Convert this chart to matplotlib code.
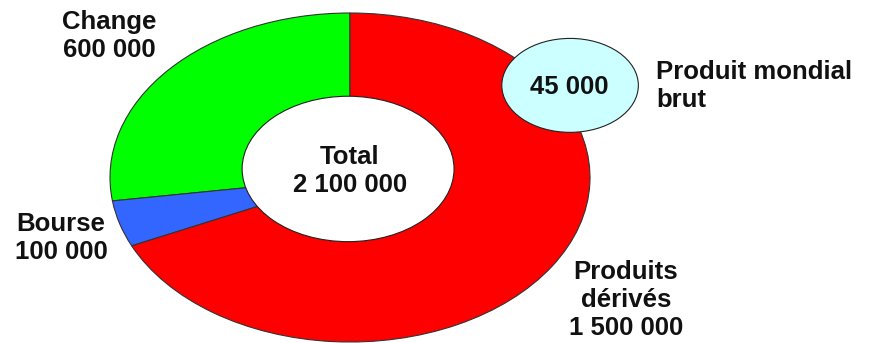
import matplotlib.pyplot as plt
from matplotlib.patches import Ellipse

plt.rcParams["font.family"] = ["Liberation Sans", "DejaVu Sans"]

# data
categories = ["Change", "Bourse", "Produits\ndérivés"]
values = [600000, 100000, 1500000]
value_labels = ["600 000", "100 000", "1 500 000"]
colors = ["#00ff00", "#3366ff", "#ff0000"]
total_label = "2 100 000"
pmb_label = "45 000"
pmb_name = "Produit mondial\nbrut"

W, H = 873, 343
fig = plt.figure(figsize=(W / 100, H / 100), dpi=100)
ax = fig.add_axes([0, 0, 1, 1])

# pie centre / radii in pixels -> axis limits so the unit pie becomes an ellipse
cx, cy, rx, ry = 350, 177.5, 240, 164.5
ax.pie(
    values,
    colors=colors,
    startangle=90,
    counterclock=True,
    radius=1,
    wedgeprops=dict(edgecolor="#333333", linewidth=0.8),
)
ax.set_aspect("auto")
ax.set_xlim(-cx / rx, (W - cx) / rx)
ax.set_ylim(-(H - cy) / ry, cy / ry)
ax.axis("off")

# white centre hole
hole = Ellipse((-0.008, 0.052), 0.883, 0.884, facecolor="white",
               edgecolor="#222222", linewidth=0.8, zorder=5)
ax.add_patch(hole)

# bubble for world GDP
bubble = Ellipse((0.917, 0.56), 0.569, 0.571, facecolor="#ccffff",
                 edgecolor="#222222", linewidth=0.8, zorder=5)
ax.add_patch(bubble)


def fx(x):
    return x / W


def fy(y):
    return 1 - y / H


fs = 18.5
kw = dict(fontsize=fs, fontweight="bold", color="#111111", linespacing=1.2)
fig.text(fx(109), fy(36), f"{categories[0]}\n{value_labels[0]}",
         ha="center", va="center", **kw)
fig.text(fx(61), fy(238), f"{categories[1]}\n{value_labels[1]}",
         ha="center", va="center", **kw)
fig.text(fx(626), fy(300), f"{categories[2]}\n{value_labels[2]}",
         ha="center", va="center", **kw)
fig.text(fx(350), fy(171), f"Total\n{total_label}",
         ha="center", va="center", zorder=6, **kw)
fig.text(fx(569), fy(87), pmb_label, ha="center", va="center", zorder=6, **kw)
fig.text(fx(656), fy(86), pmb_name, ha="left", va="center", **kw)

fig.savefig("out.png", dpi=100)
